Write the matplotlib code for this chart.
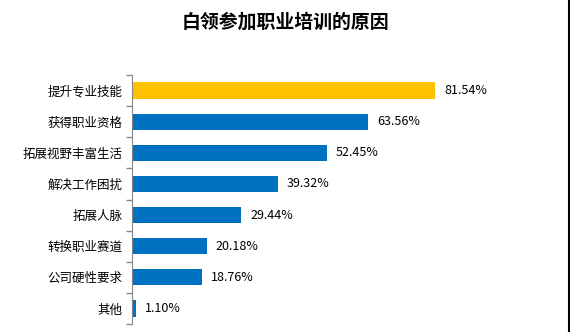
import matplotlib
matplotlib.use("Agg")
import matplotlib.pyplot as plt
import numpy as np

plt.rcParams['font.family'] = ['Noto Sans CJK SC', 'DejaVu Sans']

categories = ["提升专业技能", "获得职业资格", "拓展视野丰富生活", "解决工作困扰",
              "拓展人脉", "转换职业赛道", "公司硬性要求", "其他"]
values = [81.54, 63.56, 52.45, 39.32, 29.44, 20.18, 18.76, 1.10]
colors = ["#FFC000"] + ["#0070C0"] * 7
title = "白领参加职业培训的原因"

fig = plt.figure(figsize=(5.70, 3.32), dpi=100)
ax = fig.add_axes([132/570, 1 - 324/332, (540 - 132)/570, (324 - 75)/332])

y = np.arange(len(categories))
ax.barh(y, values, height=0.52, color=colors)
ax.set_ylim(len(categories) - 0.5, -0.5)
ax.set_xlim(0, 109.8)

for yi, v in zip(y, values):
    ax.text(v + 2.4, yi, f"{v:.2f}%", va="center", ha="left", fontsize=9, color="#000000")

ax.set_yticks(y)
ax.set_yticklabels(categories, fontsize=9)
ax.set_yticks(np.arange(len(categories) + 1) - 0.5, minor=True)
ax.tick_params(axis="y", which="major", length=0, pad=7)
ax.tick_params(axis="y", which="minor", length=4, color="#868686", width=1)
ax.set_xticks([])
for s in ["top", "right", "bottom"]:
    ax.spines[s].set_visible(False)
ax.spines["left"].set_color("#868686")

fig.text(0.5, 1 - 22/332, title, ha="center", va="center", fontsize=13.6, fontweight="bold")
fig.add_artist(plt.Line2D([568.5/570, 568.5/570], [0, 1], transform=fig.transFigure, color="black", lw=1.5))

fig.savefig("out.png", dpi=100)
